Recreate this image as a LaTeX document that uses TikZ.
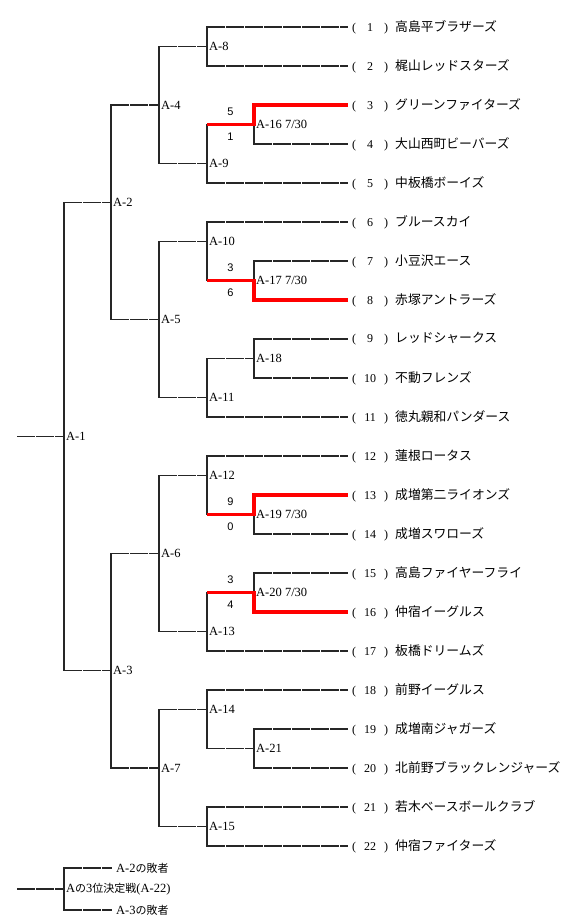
\documentclass[tikz,border=0pt]{standalone}
\usepackage{fontspec}
\setmainfont{Liberation Serif}
\setsansfont{Liberation Sans}
\newfontfamily\cjk{Noto Sans CJK JP}
\usetikzlibrary{calc, positioning}

\newcommand{\team}[2]{\makebox[36pt]{(\hfill#1\hfill)}\hspace{7pt}{\cjk\fontsize{12.8}{13}\selectfont #2}}

\begin{document}
\begin{tikzpicture}[
    x=1pt, y=-1pt,
    team/.style={anchor=west, inner xsep=4pt, inner ysep=0pt,
                 font=\fontsize{12}{12}\selectfont},
    mlab/.style={anchor=west, inner xsep=2pt, inner ysep=0pt,
                 font=\fontsize{12.5}{12.5}\selectfont},
    lose/.style={mlab, inner xsep=4pt},
    score/.style={inner sep=0pt, font=\sffamily\fontsize{11}{11}\selectfont},
    hline/.style={line width=1.5pt, black!85, dash pattern=on 17.5pt off 1.5pt},
    vline/.style={line width=1.5pt, black!85, line cap=rect},
    win/.style={line width=3.5pt, red}
]
\useasboundingbox (0,0) rectangle (564,916);

\def\xa{64}
\def\xb{111}
\def\xc{159}
\def\xd{207}
\def\xe{254}
\def\xt{348}

% teams
\node[team] (t1)  at (\xt, 27)  {\team{1}{高島平ブラザーズ}};
\node[team] (t2)  at (\xt, 66)  {\team{2}{梶山レッドスターズ}};
\node[team] (t3)  at (\xt, 105) {\team{3}{グリーンファイターズ}};
\node[team] (t4)  at (\xt, 144) {\team{4}{大山西町ビーバーズ}};
\node[team] (t5)  at (\xt, 183) {\team{5}{中板橋ボーイズ}};
\node[team] (t6)  at (\xt, 222) {\team{6}{ブルースカイ}};
\node[team] (t7)  at (\xt, 261) {\team{7}{小豆沢エース}};
\node[team] (t8)  at (\xt, 300) {\team{8}{赤塚アントラーズ}};
\node[team] (t9)  at (\xt, 339) {\team{9}{レッドシャークス}};
\node[team] (t10) at (\xt, 378) {\team{10}{不動フレンズ}};
\node[team] (t11) at (\xt, 417) {\team{11}{徳丸親和パンダース}};
\node[team] (t12) at (\xt, 456) {\team{12}{蓮根ロータス}};
\node[team] (t13) at (\xt, 495) {\team{13}{成増第二ライオンズ}};
\node[team] (t14) at (\xt, 534) {\team{14}{成増スワローズ}};
\node[team] (t15) at (\xt, 573) {\team{15}{高島ファイヤーフライ}};
\node[team] (t16) at (\xt, 612) {\team{16}{仲宿イーグルス}};
\node[team] (t17) at (\xt, 651) {\team{17}{板橋ドリームズ}};
\node[team] (t18) at (\xt, 690) {\team{18}{前野イーグルス}};
\node[team] (t19) at (\xt, 729) {\team{19}{成増南ジャガーズ}};
\node[team] (t20) at (\xt, 768) {\team{20}{北前野ブラックレンジャーズ}};
\node[team] (t21) at (\xt, 807) {\team{21}{若木ベースボールクラブ}};
\node[team] (t22) at (\xt, 846) {\team{22}{仲宿ファイターズ}};

% match points
\coordinate (m16) at (\xe, 124.5);
\coordinate (m17) at (\xe, 280.5);
\coordinate (m18) at (\xe, 358.5);
\coordinate (m19) at (\xe, 514.5);
\coordinate (m20) at (\xe, 592.5);
\coordinate (m21) at (\xe, 748.5);
\coordinate (m8)  at (\xd, 46.5);
\coordinate (m9)  at (\xd, 163.5);
\coordinate (m10) at (\xd, 241.5);
\coordinate (m11) at (\xd, 397.5);
\coordinate (m12) at (\xd, 475.5);
\coordinate (m13) at (\xd, 631.5);
\coordinate (m14) at (\xd, 709.5);
\coordinate (m15) at (\xd, 826.5);
\coordinate (m4)  at (\xc, 105);
\coordinate (m5)  at (\xc, 319.5);
\coordinate (m6)  at (\xc, 553.5);
\coordinate (m7)  at (\xc, 768);
\coordinate (m2)  at (\xb, 202.5);
\coordinate (m3)  at (\xb, 670.5);
\coordinate (m1)  at (\xa, 436.5);
\coordinate (root) at (17, 436.5);

% team lines
\draw[hline] (t1.west -| m8) -- (t1.west);
\draw[hline] (t2.west -| m8) -- (t2.west);
\draw[hline] (t4.west -| m16) -- (t4.west);
\draw[hline] (t5.west -| m9) -- (t5.west);
\draw[hline] (t6.west -| m10) -- (t6.west);
\draw[hline] (t7.west -| m17) -- (t7.west);
\draw[hline] (t9.west -| m18) -- (t9.west);
\draw[hline] (t10.west -| m18) -- (t10.west);
\draw[hline] (t11.west -| m11) -- (t11.west);
\draw[hline] (t12.west -| m12) -- (t12.west);
\draw[hline] (t14.west -| m19) -- (t14.west);
\draw[hline] (t15.west -| m20) -- (t15.west);
\draw[hline] (t17.west -| m13) -- (t17.west);
\draw[hline] (t18.west -| m14) -- (t18.west);
\draw[hline] (t19.west -| m21) -- (t19.west);
\draw[hline] (t20.west -| m21) -- (t20.west);
\draw[hline] (t21.west -| m15) -- (t21.west);
\draw[hline] (t22.west -| m15) -- (t22.west);

% verticals
\draw[vline] (m16) -- (t4.west -| m16);
\draw[vline] (t7.west -| m17) -- (m17);
\draw[vline] (t9.west -| m18) -- (t10.west -| m18);
\draw[vline] (m19) -- (t14.west -| m19);
\draw[vline] (t15.west -| m20) -- (m20);
\draw[vline] (t19.west -| m21) -- (t20.west -| m21);
\draw[vline] (t1.west -| m8) -- (t2.west -| m8);
\draw[vline] (m16 -| m9) -- (t5.west -| m9);
\draw[vline] (t6.west -| m10) -- (m17 -| m10);
\draw[vline] (m18 -| m11) -- (t11.west -| m11);
\draw[vline] (t12.west -| m12) -- (m19 -| m12);
\draw[vline] (m20 -| m13) -- (t17.west -| m13);
\draw[vline] (t18.west -| m14) -- (m21 -| m14);
\draw[vline] (t21.west -| m15) -- (t22.west -| m15);
\draw[vline] (m8 -| m4) -- (m9 -| m4);
\draw[vline] (m10 -| m5) -- (m11 -| m5);
\draw[vline] (m12 -| m6) -- (m13 -| m6);
\draw[vline] (m14 -| m7) -- (m15 -| m7);
\draw[vline] (m4 -| m2) -- (m5 -| m2);
\draw[vline] (m6 -| m3) -- (m7 -| m3);
\draw[vline] (m2 -| m1) -- (m3 -| m1);

% lead-out lines
\draw[hline] (m18 -| m11) -- (m18);
\draw[hline] (m21 -| m14) -- (m21);
\draw[hline] (m8 -| m4) -- (m8);
\draw[hline] (m9 -| m4) -- (m9);
\draw[hline] (m10 -| m5) -- (m10);
\draw[hline] (m11 -| m5) -- (m11);
\draw[hline] (m12 -| m6) -- (m12);
\draw[hline] (m13 -| m6) -- (m13);
\draw[hline] (m14 -| m7) -- (m14);
\draw[hline] (m15 -| m7) -- (m15);
\draw[hline] (m4 -| m2) -- (m4);
\draw[hline] (m5 -| m2) -- (m5);
\draw[hline] (m6 -| m3) -- (m6);
\draw[hline] (m7 -| m3) -- (m7);
\draw[hline] (m2 -| m1) -- (m2);
\draw[hline] (m3 -| m1) -- (m3);
\draw[hline] (root) -- (m1);

% played games
\draw[win] (m16 -| m9) -- (m16) |- (t3.west);
\draw[win] (m17 -| m10) -- (m17) |- (t8.west);
\draw[win] (m19 -| m12) -- (m19) |- (t13.west);
\draw[win] (m20 -| m13) -- (m20) |- (t16.west);

\node[score] (s16a) at ($(m16 -| m9)!.5!(m16) + (0,-12.5)$) {5};
\node[score] (s16b) at ($(m16 -| m9)!.5!(m16) + (0,12.5)$)  {1};
\node[score] (s17a) at ($(m17 -| m10)!.5!(m17) + (0,-12.5)$) {3};
\node[score] (s17b) at ($(m17 -| m10)!.5!(m17) + (0,12.5)$)  {6};
\node[score] (s19a) at ($(m19 -| m12)!.5!(m19) + (0,-12.5)$) {9};
\node[score] (s19b) at ($(m19 -| m12)!.5!(m19) + (0,12.5)$)  {0};
\node[score] (s20a) at ($(m20 -| m13)!.5!(m20) + (0,-12.5)$) {3};
\node[score] (s20b) at ($(m20 -| m13)!.5!(m20) + (0,12.5)$)  {4};

% match labels
\node[mlab] at (m1)  {A-1};
\node[mlab] at (m2)  {A-2};
\node[mlab] at (m3)  {A-3};
\node[mlab] at (m4)  {A-4};
\node[mlab] at (m5)  {A-5};
\node[mlab] at (m6)  {A-6};
\node[mlab] at (m7)  {A-7};
\node[mlab] at (m8)  {A-8};
\node[mlab] at (m9)  {A-9};
\node[mlab] at (m10) {A-10};
\node[mlab] at (m11) {A-11};
\node[mlab] at (m12) {A-12};
\node[mlab] at (m13) {A-13};
\node[mlab] at (m14) {A-14};
\node[mlab] at (m15) {A-15};
\node[mlab] at (m16) {A-16 7/30};
\node[mlab] at (m17) {A-17 7/30};
\node[mlab] at (m18) {A-18};
\node[mlab] at (m19) {A-19 7/30};
\node[mlab] at (m20) {A-20 7/30};
\node[mlab] at (m21) {A-21};

% third place
\coordinate (m22) at (\xa, 889);
\coordinate (root22) at (17, 889);
\node[lose] (l2) at (112, 868) {A-2{\cjk\fontsize{11}{11}\selectfont の敗者}};
\node[lose] (l3) at (112, 910) {A-3{\cjk\fontsize{11}{11}\selectfont の敗者}};
\node[mlab] (f22) at (m22) {A{\cjk\fontsize{11}{11}\selectfont の}3{\cjk\fontsize{11}{11}\selectfont 位決定戦}(A-22)};
\draw[hline] (l2.west -| m22) -- (l2.west);
\draw[hline] (l3.west -| m22) -- (l3.west);
\draw[vline] (l2.west -| m22) -- (l3.west -| m22);
\draw[hline] (root22) -- (m22);

\end{tikzpicture}
\end{document}
